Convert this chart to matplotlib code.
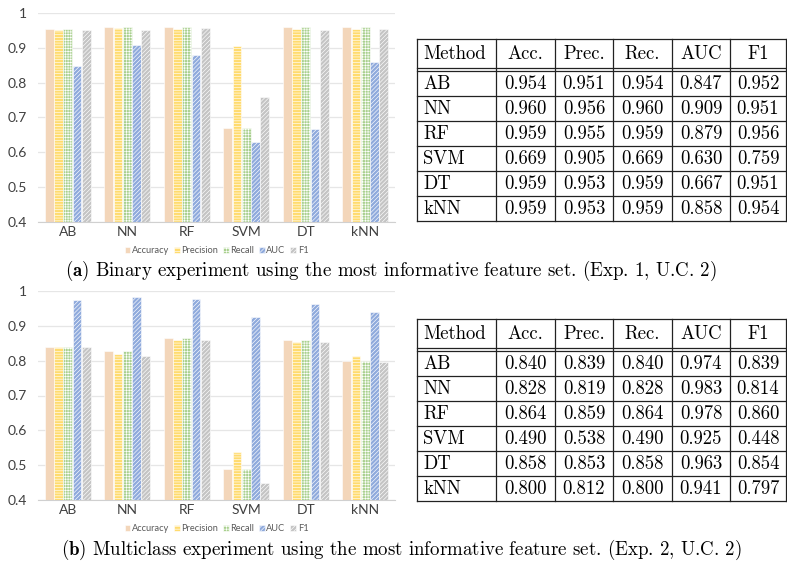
import matplotlib.pyplot as plt
import numpy as np

methods = ['AB', 'NN', 'RF', 'SVM', 'DT', 'kNN']
metrics = ['Accuracy', 'Precision', 'Recall', 'AUC', 'F1']
headers = ['Method', 'Acc.', 'Prec.', 'Rec.', 'AUC', 'F1']

bin_acc = [0.954, 0.960, 0.959, 0.669, 0.959, 0.959]
bin_prec = [0.951, 0.956, 0.955, 0.905, 0.953, 0.953]
bin_rec = [0.954, 0.960, 0.959, 0.669, 0.959, 0.959]
bin_auc = [0.847, 0.909, 0.879, 0.630, 0.667, 0.858]
bin_f1 = [0.952, 0.951, 0.956, 0.759, 0.951, 0.954]

mc_acc = [0.840, 0.828, 0.864, 0.490, 0.858, 0.800]
mc_prec = [0.839, 0.819, 0.859, 0.538, 0.853, 0.812]
mc_rec = [0.840, 0.828, 0.864, 0.490, 0.858, 0.800]
mc_auc = [0.974, 0.983, 0.978, 0.925, 0.963, 0.941]
mc_f1 = [0.839, 0.814, 0.860, 0.448, 0.854, 0.797]

captions = [r'$\mathbf{(a)}$ Binary experiment using the most informative feature set. (Exp. 1, U.C. 2)',
            r'$\mathbf{(b)}$ Multiclass experiment using the most informative feature set. (Exp. 2, U.C. 2)']

colors = ['#F3D6BA', '#FFDB6E', '#A9D08E', '#8FAADC', '#C4C4C4']
hatches = ['', '------', '++++++', '////////', '////////']

plt.rcParams['mathtext.fontset'] = 'cm'
plt.rcParams['hatch.linewidth'] = 0.45

W, H = 787, 564
fig = plt.figure(figsize=(W / 100, H / 100), dpi=100)


def px_axes(left, top, right, bottom):
    return fig.add_axes([left / W, 1 - bottom / H, (right - left) / W, (bottom - top) / H])


def bar_chart(ax, series):
    x = np.arange(len(methods))
    w = 0.145
    for i, vals in enumerate(series):
        ax.bar(x + (i - 2) * 0.155, np.array(vals) - 0.4, w, bottom=0.4,
               color=colors[i], hatch=hatches[i], edgecolor='white', linewidth=0.4,
               label=metrics[i], zorder=2)
    ax.set_xlim(-0.5, len(methods) - 0.5)
    ax.set_ylim(0.4, 1.0)
    ax.set_yticks(np.arange(0.4, 1.01, 0.1))
    ax.set_yticklabels(['0.4', '0.5', '0.6', '0.7', '0.8', '0.9', '1'])
    ax.set_xticks(x)
    ax.set_xticklabels(methods)
    for s in ['top', 'right', 'left']:
        ax.spines[s].set_visible(False)
    ax.spines['bottom'].set_color('#D0D0D0')
    ax.grid(axis='y', color='#E6E6E6', linewidth=0.9, zorder=0)
    ax.tick_params(length=0, labelsize=10, colors='#404040', pad=3)
    ax.tick_params(axis='y', pad=8)
    for t in ax.get_xticklabels() + ax.get_yticklabels():
        t.set_fontfamily('Lato')
    ax.legend(loc='upper center', bbox_to_anchor=(0.5, -0.075), ncol=5, frameon=False,
              handlelength=0.6, handleheight=0.6, handletextpad=0.2, columnspacing=0.5,
              prop={'family': 'Lato', 'size': 6.7}, labelcolor='#595959')


ax1 = px_axes(38, 13, 395, 222)
bar_chart(ax1, [bin_acc, bin_prec, bin_rec, bin_auc, bin_f1])
ax2 = px_axes(38, 291, 395, 500)
bar_chart(ax2, [mc_acc, mc_prec, mc_rec, mc_auc, mc_f1])

# overlay in pixel coordinates for the tables and captions
ov = fig.add_axes([0, 0, 1, 1])
ov.set_xlim(0, W)
ov.set_ylim(H, 0)
ov.axis('off')

col_edges = [417, 496, 555, 613, 672, 730, 786]
TFS = 13.5


def draw_table(top, rows):
    hb = top + 28.5
    rows_top = hb + 3
    rh = 25
    bottom = rows_top + rh * len(rows)
    lw = 0.9
    for y in [top, hb, rows_top] + [rows_top + rh * (k + 1) for k in range(len(rows))]:
        ov.plot([col_edges[0], col_edges[-1]], [y, y], color='#222222', lw=lw)
    for xe in col_edges:
        ov.plot([xe, xe], [top, bottom], color='#222222', lw=lw)
    for j, h in enumerate(headers):
        if j == 0:
            ov.text(col_edges[0] + 6, (top + hb) / 2 + 1, h, ha='left', va='center',
                    fontfamily='cmr10', fontsize=TFS)
        else:
            ov.text((col_edges[j] + col_edges[j + 1]) / 2, (top + hb) / 2 + 1, h, ha='center',
                    va='center', fontfamily='cmr10', fontsize=TFS)
    for r, (name, vals) in enumerate(rows):
        yc = rows_top + rh * r + rh / 2 + 1
        ov.text(col_edges[0] + 6, yc, name, ha='left', va='center',
                fontfamily='cmr10', fontsize=TFS)
        for j, v in enumerate(vals):
            ov.text((col_edges[j + 1] + col_edges[j + 2]) / 2, yc, '%.3f' % v, ha='center',
                    va='center', fontfamily='cmr10', fontsize=TFS)


bin_rows = list(zip(methods, zip(bin_acc, bin_prec, bin_rec, bin_auc, bin_f1)))
mc_rows = list(zip(methods, zip(mc_acc, mc_prec, mc_rec, mc_auc, mc_f1)))
draw_table(39, bin_rows)
draw_table(319, mc_rows)

ov.text(391, 271, captions[0], ha='center', va='center', fontfamily='cmr10', fontsize=13.6)
ov.text(401, 550, captions[1], ha='center', va='center', fontfamily='cmr10', fontsize=13.6)

fig.savefig('out.png', dpi=100)
